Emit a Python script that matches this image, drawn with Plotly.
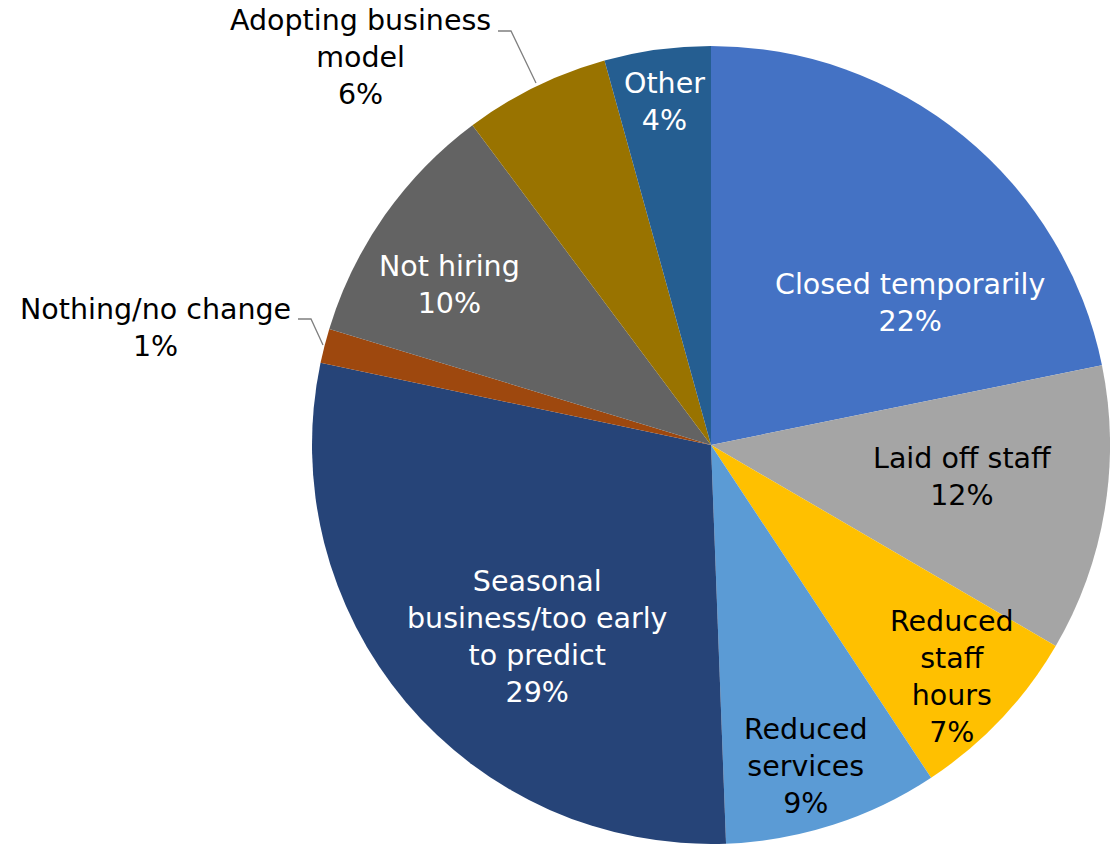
import plotly.graph_objects as go

# ---- data ----
categories = ["Closed temporarily", "Laid off staff", "Reduced staff hours", "Reduced services",
              "Seasonal business/too early to predict", "Nothing/no change", "Not hiring",
              "Adopting business model", "Other"]
values = [21.8, 11.6, 7.3, 8.7, 28.9, 1.4, 10.1, 5.9, 4.3]
label_text = ["Closed temporarily", "Laid off staff", "Reduced<br>staff<br>hours", "Reduced<br>services",
              "Seasonal<br>business/too early<br>to predict", "Nothing/no change", "Not hiring",
              "Adopting business<br>model", "Other"]

# ---- styles ----
colors = ["#4472C4", "#A5A5A5", "#FFC000", "#5B9BD5", "#264478", "#9E480E", "#636363", "#997300", "#255E91"]
text_colors = ["white", "black", "black", "black", "white", "black", "white", "black", "white"]
# label centre positions in pixels (x, y from top)
label_pos = [(910, 303), (962, 477), (952, 677), (806, 766), (537, 637), (155, 328), (449, 285), (360, 57), (664, 102)]
# leader lines (pixel coordinates) for outside labels
leaders = [[(298, 319), (311, 319), (323, 345)], [(498, 31), (511, 31), (536, 83)]]

W, H = 1110, 846
def px(x):
    return x / W
def py(y):
    return 1 - y / H

total = sum(values)
fig = go.Figure(go.Pie(
    labels=categories, values=values, sort=False, direction="clockwise", rotation=0,
    marker=dict(colors=colors, line=dict(width=0)),
    textinfo="none", hoverinfo="label+percent", showlegend=False,
    domain=dict(x=[px(312), 1.0], y=[py(845), py(45)]),
))

annotations = []
for name, v, tc, (x, y) in zip(label_text, values, text_colors, label_pos):
    pct = round(100 * v / total)
    annotations.append(dict(
        x=px(x), y=py(y), xref="paper", yref="paper", xanchor="center", yanchor="middle",
        text=f"{name}<br>{pct}%", showarrow=False, align="center",
        font=dict(family="DejaVu Sans, Verdana, sans-serif", size=28.5, color=tc),
    ))

shapes = []
for pts in leaders:
    path = "M " + " L ".join(f"{px(a)},{py(b)}" for a, b in pts)
    shapes.append(dict(type="path", path=path, xref="paper", yref="paper",
                       line=dict(color="#7F7F7F", width=1.3)))

fig.update_layout(
    width=W, height=H, margin=dict(l=0, r=0, t=0, b=0),
    paper_bgcolor="white", plot_bgcolor="white",
    annotations=annotations, shapes=shapes,
)
fig.write_html("out.html", config={"displayModeBar": False},
               post_script="document.body.style.margin='0';document.body.style.overflow='hidden';")
